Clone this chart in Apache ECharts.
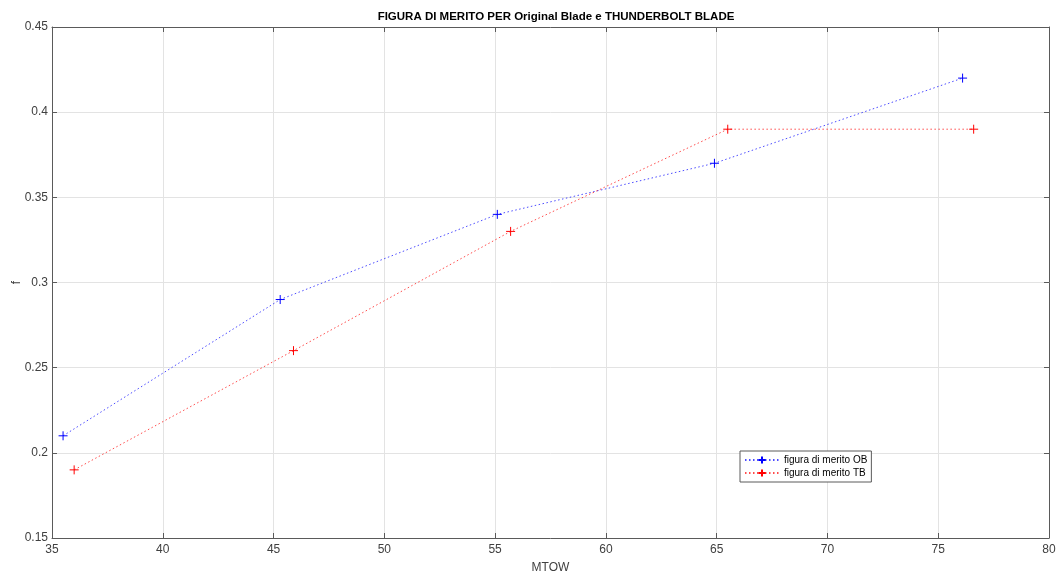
<!DOCTYPE html>
<html>
<head>
<meta charset="utf-8">
<script src="https://cdn.jsdelivr.net/npm/echarts@6/dist/echarts.min.js"></script>
<style>
html,body{margin:0;padding:0;background:#fff;}
#chart{width:1060px;height:577px;}
</style>
</head>
<body>
<div id="chart"></div>
<script>
// MTOW values and figure of merit for the two blades
const mtowOB = [35.5, 45.3, 55.1, 64.9, 76.1];
const meritOB = [0.21, 0.29, 0.34, 0.37, 0.42];
const mtowTB = [36.0, 45.9, 55.7, 65.5, 76.6];
const meritTB = [0.19, 0.26, 0.33, 0.39, 0.39];
const seriesNames = ['figura di merito OB', 'figura di merito TB'];

const axisColor = '#5a5a5a';
const labelColor = '#404040';
const gridColor = '#e3e3e3';
const fontFamily = 'Liberation Sans, Arial, sans-serif';
const plus = 'path://M5,0L5,10M0,5L10,5';

function pairs(xs, ys) { return xs.map((x, i) => [x, ys[i]]); }

function lineSeries(name, xs, ys, color) {
  return {
    name: name,
    type: 'line',
    data: pairs(xs, ys),
    symbol: plus,
    symbolSize: 9,
    showAllSymbol: true,
    itemStyle: { color: 'rgba(0,0,0,0)', borderColor: color, borderWidth: 1 },
    lineStyle: { color: color, width: 1, type: [1.5, 2.5], opacity: 0.7 },
    emphasis: { disabled: true },
    animation: false
  };
}

const chart = echarts.init(document.getElementById('chart'), null, { renderer: 'canvas' });
const xBase = {
  type: 'value', min: 35, max: 80, interval: 5,
  axisLine: { lineStyle: { color: axisColor, width: 1 } },
  axisTick: { inside: true, length: 5, lineStyle: { color: axisColor } }
};
const yBase = {
  type: 'value', min: 0.15, max: 0.45, interval: 0.05,
  axisLine: { lineStyle: { color: axisColor, width: 1 } },
  axisTick: { inside: true, length: 5, lineStyle: { color: axisColor } }
};
chart.setOption({
  backgroundColor: '#fff',
  animation: false,
  title: {
    text: 'FIGURA DI MERITO PER Original Blade e THUNDERBOLT BLADE',
    left: 551, top: 6, textAlign: 'center',
    textStyle: { fontFamily: fontFamily, fontSize: 11.5, fontWeight: 'bold', color: '#000' }
  },
  grid: { left: 52, right: 11, top: 27, bottom: 39, show: false, outerBoundsMode: 'none', containLabel: false },
  legend: {
    orient: 'vertical',
    left: 740, top: 451,
    data: seriesNames,
    itemWidth: 34, itemHeight: 9,
    itemGap: 3,
    padding: [4, 4, 4, 4],
    borderColor: axisColor, borderWidth: 1,
    backgroundColor: '#fff',
    textStyle: { fontFamily: fontFamily, fontSize: 10, color: '#000' },
    selectedMode: false
  },
  xAxis: [
    Object.assign({}, xBase, {
      position: 'bottom',
      name: 'MTOW', nameLocation: 'middle', nameGap: 24, nameMoveOverlap: false,
      nameTextStyle: { fontFamily: fontFamily, fontSize: 12, color: labelColor },
      axisLabel: { fontFamily: fontFamily, fontSize: 12, color: labelColor, margin: 6 },
      splitLine: { show: true, lineStyle: { color: gridColor, width: 1 } }
    }),
    Object.assign({}, xBase, {
      position: 'top',
      axisLabel: { show: false },
      splitLine: { show: false }
    })
  ],
  yAxis: [
    Object.assign({}, yBase, {
      position: 'left',
      name: 'f', nameLocation: 'middle', nameGap: 29, nameMoveOverlap: false,
      nameTextStyle: { fontFamily: fontFamily, fontSize: 12, color: labelColor },
      axisLabel: { fontFamily: fontFamily, fontSize: 12, color: labelColor, margin: 4,
        formatter: v => String(parseFloat(v.toFixed(2))) },
      splitLine: { show: true, lineStyle: { color: gridColor, width: 1 } }
    }),
    Object.assign({}, yBase, {
      position: 'right',
      axisLabel: { show: false },
      splitLine: { show: false }
    })
  ],
  series: [
    lineSeries(seriesNames[0], mtowOB, meritOB, '#0000ff'),
    lineSeries(seriesNames[1], mtowTB, meritTB, '#ff0000')
  ]
});
</script>
</body>
</html>
